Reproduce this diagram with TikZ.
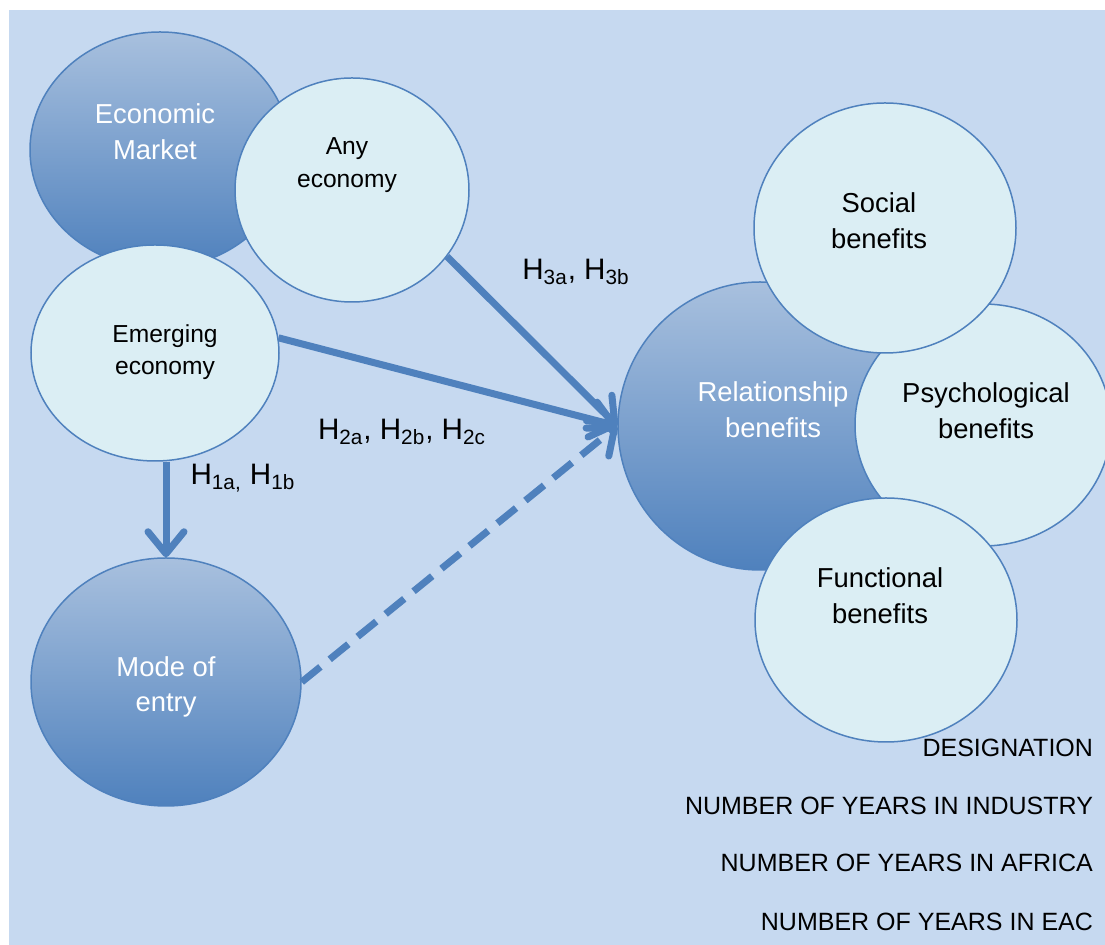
\documentclass[tikz,border=0pt]{standalone}
\usepackage{fontspec}
\setmainfont{Liberation Sans}
\usetikzlibrary{shapes.geometric,arrows.meta}

\definecolor{bgblue}{RGB}{198,217,240}
\definecolor{lineblue}{RGB}{79,129,189}
\definecolor{paleblue}{RGB}{219,238,244}
\definecolor{topblue}{RGB}{168,192,222}

\begin{document}
\begin{tikzpicture}[x=0.5pt, y=-0.5pt,
		darkcirc/.style={ellipse, draw=lineblue, line width=0.75pt, top color=topblue, bottom color=lineblue, inner sep=0pt},
		lightcirc/.style={ellipse, draw=lineblue, line width=0.75pt, fill=paleblue, inner sep=0pt},
		bigtxt/.style={align=center, font=\fontsize{13.7}{17.8}\selectfont},
		smalltxt/.style={align=center, font=\fontsize{12.3}{16.2}\selectfont},
		hyp/.style={font=\fontsize{14.8}{18}\selectfont},
		conn/.style={draw=lineblue, line width=3.5pt, -{Straight Barb[length=11pt,width=18pt,round]}},
		itemtxt/.style={anchor=east, font=\fontsize{12.5}{15}\selectfont}]
		\useasboundingbox (0,0) rectangle (1105,945);
		% Background panel
		\fill[bgblue] (9,10) rectangle (1105,945);
		% Left group: markets
		\node[darkcirc, minimum width=130pt, minimum height=118pt] (econ) at (160,150) {};
		\node[lightcirc, minimum width=117pt, minimum height=112pt] (any) at (352,190) {};
		\node[lightcirc, minimum width=124pt, minimum height=108pt] (emer) at (155,353) {};
		\node[darkcirc, minimum width=135pt, minimum height=124pt] (mode) at (166,682) {};
		\node[bigtxt, text=white] (econtxt) at (155,132) {Economic\\Market};
		\node[smalltxt] (anytxt) at (347,165) {Any\\economy};
		\node[smalltxt] (emertxt) at (165,352) {Emerging\\economy};
		\node[bigtxt, text=white] (modetxt) at (166,687) {Mode of\\entry};
		% Right group: benefits
		\node[darkcirc, minimum width=142pt, minimum height=144pt] (rel) at (760,426) {};
		\node[lightcirc, minimum width=128pt, minimum height=121pt] (psych) at (983,425) {};
		\node[lightcirc, minimum width=131pt, minimum height=125pt] (social) at (885,228) {};
		\node[lightcirc, minimum width=131pt, minimum height=122pt] (func) at (886,620) {};
		\node[bigtxt, text=white] (reltxt) at (773,410) {Relationship\\benefits};
		\node[bigtxt] (psychtxt) at (986,411) {Psychological\\benefits};
		\node[bigtxt] (socialtxt) at (879,221) {Social\\benefits};
		\node[bigtxt] (functxt) at (880,596) {Functional\\benefits};
		% Hypotheses
		\draw[conn] (any.-35) -- (rel.west);
		\draw[conn] (emer.7) -- (rel.west);
		\draw[conn] (emer.south -| mode.north) -- (mode.north);
		\draw[conn, dash pattern=on 12pt off 6pt] (mode.east) -- (rel.west);
		\node[hyp] (h3) at (576,272) {H\textsubscript{3a}, H\textsubscript{3b}};
		\node[hyp] (h2) at (402,432) {H\textsubscript{2a}, H\textsubscript{2b}, H\textsubscript{2c}};
		\node[hyp] (h1) at (243,478) {H\textsubscript{1a,} H\textsubscript{1b}};
		% Control variables
		\node[itemtxt] (desig) at (1100,748) {DESIGNATION};
		\node[itemtxt] (yind) at (1100,806) {NUMBER OF YEARS IN INDUSTRY};
		\node[itemtxt] (yafr) at (1100,863) {NUMBER OF YEARS IN AFRICA};
		\node[itemtxt] (yeac) at (1100,922) {NUMBER OF YEARS IN EAC};
	\end{tikzpicture}
\end{document}
